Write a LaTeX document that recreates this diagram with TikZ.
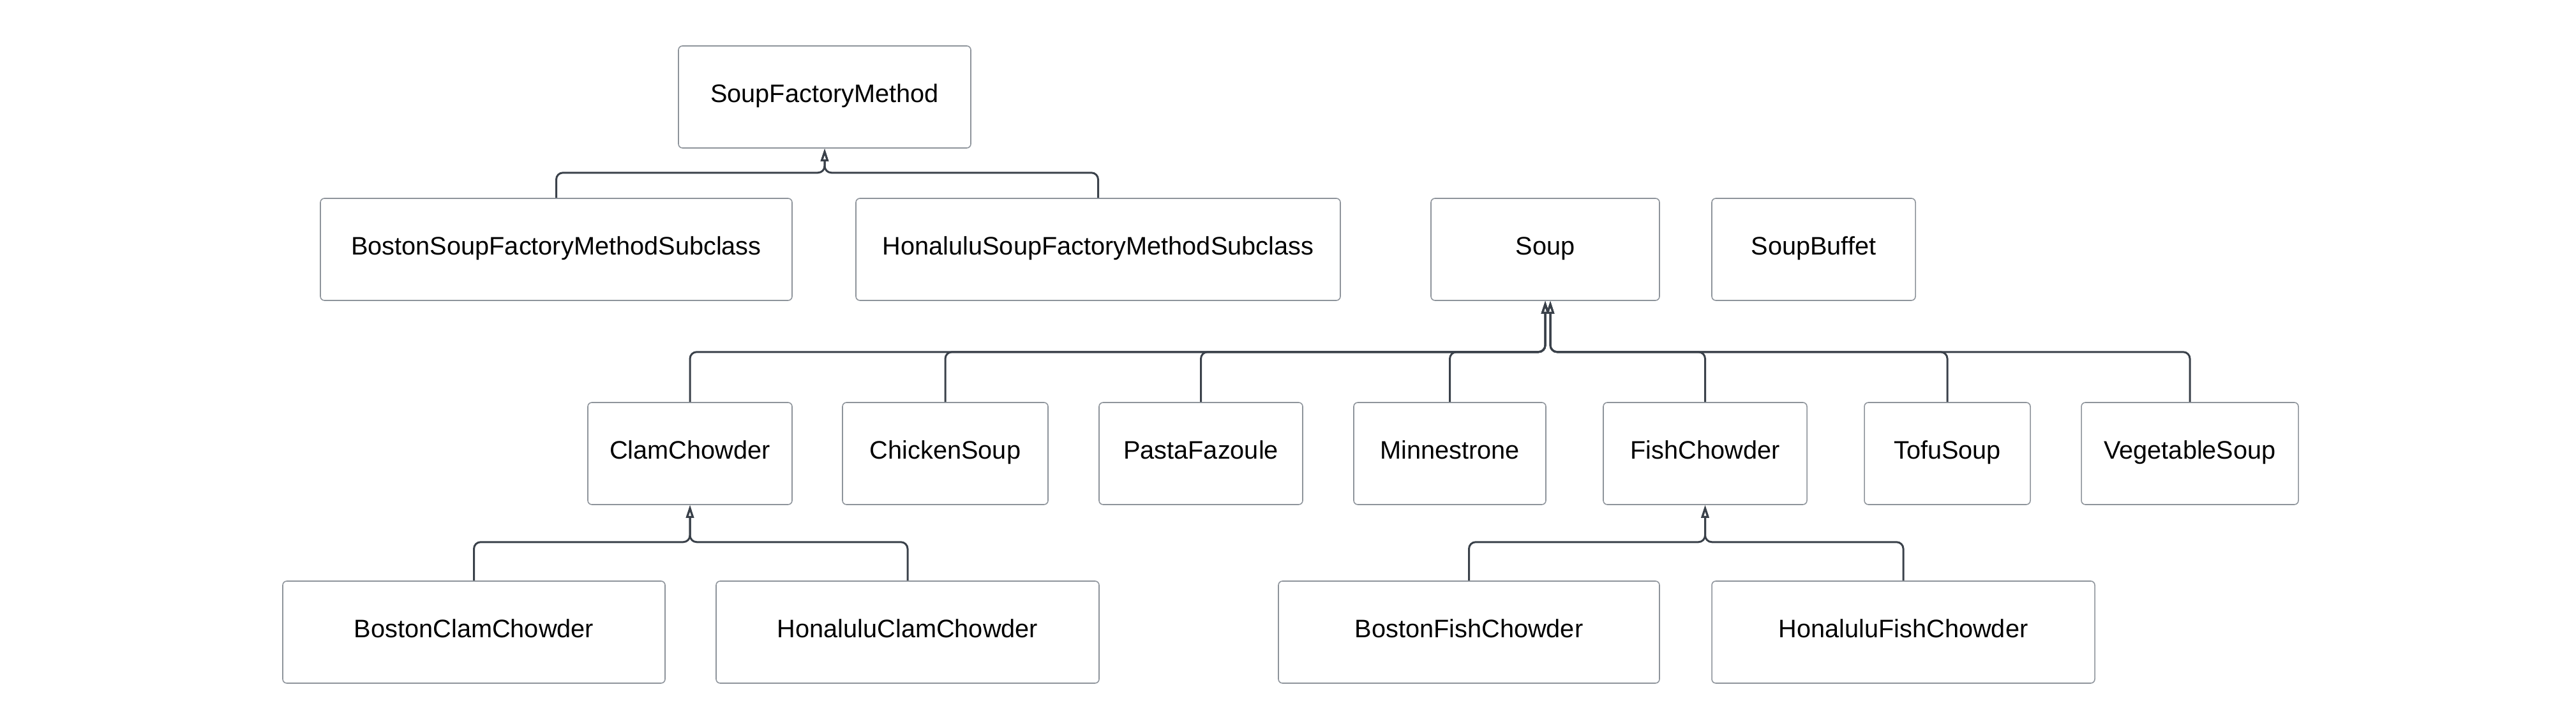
\documentclass[tikz,border=0pt]{standalone}
\usepackage{fontspec}
\setmainfont{Liberation Sans}
\usetikzlibrary{arrows.meta}
\definecolor{boxline}{HTML}{8E949B}
\definecolor{wire}{HTML}{3A414A}

\begin{document}
\begin{tikzpicture}[
		cls/.style={draw=boxline, line width=0.45pt, rounded corners=1.8pt, minimum height=1.6cm,
			inner sep=0pt, text height=0.72em, text depth=0.25em, font=\fontsize{11.3}{13}\selectfont},
		isa/.style={draw=wire, line width=0.85pt, rounded corners=3pt,
			-{Triangle[open, length=0.2cm, width=0.12cm]}}]
			\useasboundingbox (0,0) rectangle (40.36,11.35);
			%Factory classes
			\node[cls, minimum width=4.58cm] (sfm) at (12.92,9.83) {SoupFactoryMethod};
			\node[cls, minimum width=7.39cm] (bsfm) at (8.715,7.44) {BostonSoupFactoryMethodSubclass};
			\node[cls, minimum width=7.59cm] (hsfm) at (17.205,7.44) {HonaluluSoupFactoryMethodSubclass};
			%Soups
			\node[cls, minimum width=3.58cm] (soup) at (24.21,7.44) {Soup};
			\node[cls, minimum width=3.19cm] (buffet) at (28.415,7.44) {SoupBuffet};
			\node[cls, minimum width=3.20cm] (clam) at (10.81,4.24) {ClamChowder};
			\node[cls, minimum width=3.22cm] (chicken) at (14.81,4.24) {ChickenSoup};
			\node[cls, minimum width=3.19cm] (pasta) at (18.815,4.24) {PastaFazoule};
			\node[cls, minimum width=3.01cm] (minn) at (22.715,4.24) {Minnestrone};
			\node[cls, minimum width=3.19cm] (fish) at (26.715,4.24) {FishChowder};
			\node[cls, minimum width=2.60cm] (tofu) at (30.51,4.24) {TofuSoup};
			\node[cls, minimum width=3.40cm] (veg) at (34.31,4.24) {VegetableSoup};
			%Chowder subclasses
			\node[cls, minimum width=5.99cm] (bcc) at (7.425,1.44) {BostonClamChowder};
			\node[cls, minimum width=6.00cm] (hcc) at (14.22,1.44) {HonaluluClamChowder};
			\node[cls, minimum width=5.97cm] (bfc) at (23.015,1.44) {BostonFishChowder};
			\node[cls, minimum width=6.00cm] (hfc) at (29.82,1.44) {HonaluluFishChowder};
			%Inheritance
			\foreach \c in {bsfm,hsfm}
			{\draw[isa] (\c.north) |- ([yshift=-0.38cm]sfm.south) -- (sfm.south);}
			\foreach \c in {clam,chicken,pasta,minn}
			{\draw[isa] (\c.north) |- ([yshift=-0.8cm]soup.south) -- (soup.south);}
			\foreach \c in {fish,tofu,veg}
			{\draw[isa] (\c.north) |- ([xshift=0.08cm,yshift=-0.8cm]soup.south) -- ([xshift=0.08cm]soup.south);}
			\foreach \c in {bcc,hcc}
			{\draw[isa] (\c.north) |- ([yshift=-0.58cm]clam.south) -- (clam.south);}
			\foreach \c in {bfc,hfc}
			{\draw[isa] (\c.north) |- ([yshift=-0.58cm]fish.south) -- (fish.south);}
\end{tikzpicture}
\end{document}
